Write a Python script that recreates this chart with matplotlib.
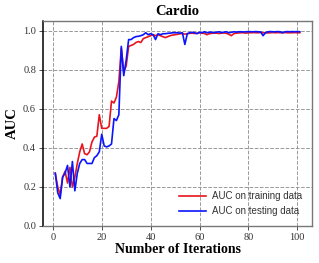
import matplotlib
matplotlib.use("Agg")
import matplotlib.pyplot as plt
import numpy as np

iterations = list(range(1, 102))

auc_train = [
    0.27, 0.20, 0.16, 0.25, 0.28, 0.22, 0.30, 0.20, 0.25, 0.32,
    0.38, 0.42, 0.37, 0.365, 0.38, 0.43, 0.455, 0.46, 0.57, 0.50,
    0.50, 0.50, 0.51, 0.64, 0.63, 0.66, 0.74, 0.91, 0.79, 0.82,
    0.92, 0.925, 0.93, 0.94, 0.945, 0.94, 0.96, 0.965, 0.97, 0.975,
    0.98, 0.975, 0.98, 0.975, 0.97, 0.965, 0.97, 0.975, 0.978, 0.98,
    0.982, 0.985, 0.985, 0.983, 0.985, 0.987, 0.988, 0.986, 0.988, 0.99,
    0.988, 0.986, 0.98, 0.985, 0.987, 0.988, 0.988, 0.986, 0.988, 0.989,
    0.987, 0.982, 0.975, 0.985, 0.988, 0.989, 0.99, 0.99, 0.988, 0.99,
    0.99, 0.991, 0.99, 0.99, 0.991, 0.99, 0.99, 0.989, 0.99, 0.991,
    0.99, 0.991, 0.99, 0.99, 0.991, 0.99, 0.99, 0.99, 0.991, 0.99,
    0.99,
]

auc_test = [
    0.27, 0.17, 0.14, 0.25, 0.27, 0.31, 0.20, 0.33, 0.18, 0.27,
    0.32, 0.34, 0.34, 0.32, 0.32, 0.32, 0.35, 0.36, 0.38, 0.47,
    0.41, 0.405, 0.41, 0.42, 0.55, 0.54, 0.57, 0.92, 0.77, 0.85,
    0.955, 0.955, 0.965, 0.97, 0.972, 0.975, 0.98, 0.99, 0.98, 0.985,
    0.98, 0.955, 0.985, 0.98, 0.985, 0.985, 0.987, 0.988, 0.99, 0.99,
    0.99, 0.988, 0.99, 0.93, 0.985, 0.99, 0.992, 0.99, 0.985, 0.992,
    0.99, 0.995, 0.99, 0.992, 0.993, 0.99, 0.993, 0.995, 0.99, 0.993,
    0.995, 0.99, 0.992, 0.995, 0.993, 0.995, 0.995, 0.994, 0.995, 0.996,
    0.995, 0.995, 0.996, 0.995, 0.994, 0.975, 0.99, 0.995, 0.996, 0.995,
    0.995, 0.996, 0.995, 0.99, 0.995, 0.996, 0.995, 0.996, 0.995, 0.996,
    0.995,
]

fig = plt.figure(figsize=(3.19, 2.63), dpi=100)
ax = fig.add_axes([0.135, 0.141, 0.843, 0.779])

ax.plot(iterations, auc_train, color="#e8141e", lw=1.2, label="AUC on training data")
ax.plot(iterations, auc_test, color="#0a14ff", lw=1.2, label="AUC on testing data")

ax.set_xlim(-4, 106)
ax.set_ylim(0, 1.05)
ax.set_xticks([0, 20, 40, 60, 80, 100])
ax.set_yticks([0.0, 0.2, 0.4, 0.6, 0.8, 1.0])
ax.set_yticklabels(["0.0", "0.2", "0.4", "0.6", "0.8", "1.0"])

ax.grid(True, linestyle="--", color="#999999", lw=0.7)
ax.set_axisbelow(True)

for lab in ax.get_xticklabels() + ax.get_yticklabels():
    lab.set_family("Liberation Serif")
    lab.set_fontsize(7.5)
    lab.set_color("#333333")
ax.tick_params(axis="both", length=3, width=0.6, colors="#333333", pad=2)

for side in ["top", "right", "bottom"]:
    ax.spines[side].set_color("#777777")
    ax.spines[side].set_linewidth(1.0)
ax.spines["left"].set_color("black")
ax.spines["left"].set_linewidth(1.1)

ax.set_title("Cardio", family="Liberation Serif", fontweight="bold", fontsize=10.5, pad=4)
ax.set_xlabel("Number of Iterations", family="Liberation Serif", fontweight="bold", fontsize=10, labelpad=1)
ax.set_ylabel("AUC", family="Liberation Serif", fontweight="bold", fontsize=10.5, labelpad=3)

leg = ax.legend(loc="lower right", frameon=False, prop={"family": "Liberation Sans", "size": 7},
                handlelength=2.8, handletextpad=0.6, borderaxespad=0.6, labelspacing=0.5)
for t in leg.get_texts():
    t.set_color("#333333")

fig.savefig("out.png", dpi=100)
